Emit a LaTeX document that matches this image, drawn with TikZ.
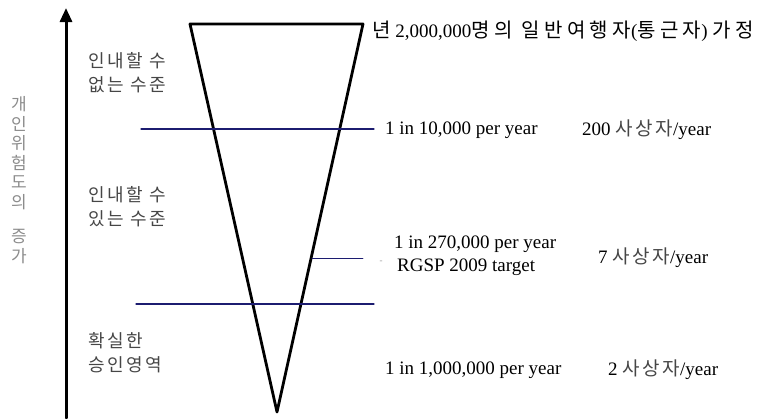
\documentclass[tikz,border=0pt]{standalone}
\usepackage{fontspec}
\setmainfont{Liberation Serif}
\newfontfamily\kr{Noto Sans CJK KR}
\newfontfamily\krsp[LetterSpace=14]{Noto Sans CJK KR}
\newfontfamily\krwide[LetterSpace=22]{Noto Sans CJK KR}
\usetikzlibrary{arrows.meta}

\definecolor{navyline}{RGB}{28,28,112}
\definecolor{krgray}{RGB}{70,70,70}

\newcommand{\hdkr}[1]{{\krwide\fontsize{20}{23}\selectfont #1}}

\tikzset{
  band/.style={draw=navyline,line width=1.3pt},
  zone/.style={font=\krsp\fontsize{18}{24}\selectfont,text=krgray,align=left,anchor=west,inner sep=0pt},
  rate/.style={font=\fontsize{19}{23}\selectfont,align=left,anchor=west,inner sep=0pt},
}

\begin{document}
\begin{tikzpicture}[x=1pt,y=-1pt,line cap=round,line join=round]
\useasboundingbox (0,0) rectangle (763,418);

% risk axis
\coordinate (A0) at (66,418);
\coordinate (A1) at (66,8);
\draw[line width=3pt,-{Triangle[width=12pt,length=14pt]}] (A0)--(A1);
\node[font=\kr\fontsize{17}{19.5}\selectfont,text=black!45,align=center,inner sep=0pt]
  (axislbl) at (19,180) {개\\인\\위\\험\\도\\의\\[15pt]증\\가};

% funnel as an inverted triangle
\coordinate (F1) at (190,24);
\coordinate (F2) at (363,24);
\coordinate (F3) at (277,412);
\draw[line width=2.8pt] (F1)--(F2)--(F3)--cycle;

% limit lines
\coordinate (U1) at (141,129);
\coordinate (U2) at (374,129);
\coordinate (T1) at (312,258);
\coordinate (T2) at (363,258);
\coordinate (B1) at (136,304);
\coordinate (B2) at (374,304);
\draw[band] (U1)--(U2);
\draw[band,line width=0.9pt] (T1)--(T2);
\draw[band] (B1)--(B2);

% regions
\node[zone] (intol) at (88,73) {인내할 수\\없는 수준};
\node[zone] (tol) at (88,207) {인내할 수\\있는 수준};
\node[zone] (accept) at (88,353) {확실한\\승인영역};

% rates and casualties
\node[rate] (pop) at (372,31) {\hdkr{년} 2,000,000\hdkr{명의 일반여행자}(\hdkr{통근자}) \hdkr{가정}};
\node[rate] (r1) at (385,130) {1 in 10,000 per year};
\node[rate] (c1) at (582,130) {200 {\color{krgray}\krsp 사상자}/year};
\node[font=\small,text=black!40,inner sep=0pt] (dash) at (381,262) {-};
\node[rate] (r2) at (394,256) {1 in 270,000 per year\\\hspace{3pt}RGSP 2009 target};
\node[rate] (c2) at (598,258) {7 {\color{krgray}\krsp 사상자}/year};
\node[rate] (r3) at (385,370) {1 in 1,000,000 per year};
\node[rate] (c3) at (608,370) {2 {\color{krgray}\krsp 사상자}/year};

\end{tikzpicture}
\end{document}
